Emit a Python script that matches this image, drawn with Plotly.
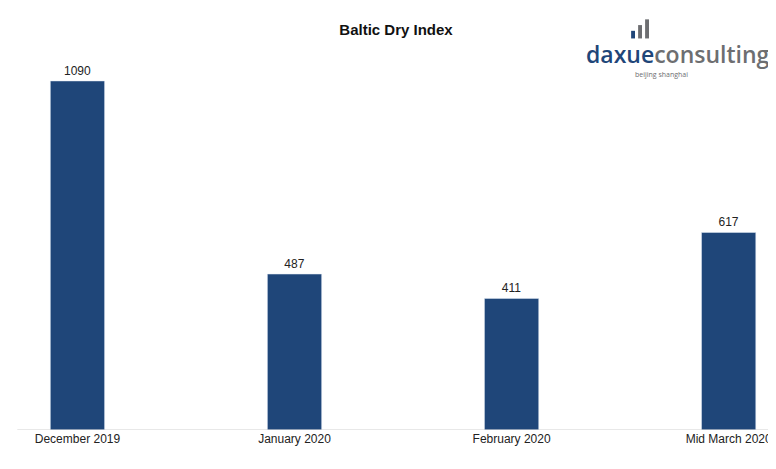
import plotly.graph_objects as go

categories = ["December 2019", "January 2020", "February 2020", "Mid March 2020"]
values = [1090, 487, 411, 617]
positions = [0, 1, 2, 3]

fig = go.Figure(go.Bar(
    x=positions, y=values, width=0.25,
    marker_color="#1f4679",
    text=values, textposition="outside",
    textfont=dict(family="Liberation Sans", size=12, color="#222"),
    cliponaxis=False,
))

fig.update_layout(
    width=776, height=469,
    margin=dict(l=0, r=0, t=40, b=47),
    plot_bgcolor="white", paper_bgcolor="white",
    showlegend=False,
    title=dict(text="<b>Baltic Dry Index</b>", x=0.5, y=0.965, xanchor="center",
               font=dict(family="Liberation Sans", size=15, color="#111")),
    font=dict(family="Liberation Sans", color="#222"),
)
fig.update_xaxes(range=[-0.32, 3.255], tickvals=positions, ticktext=categories,
                 tickfont=dict(size=12), showgrid=False, zeroline=False,
                 showline=False, ticks="")
fig.update_yaxes(range=[0, 1193], visible=False)

fig.add_shape(type="line", xref="paper", yref="y", x0=0.012, x1=0.988, y0=0, y1=0,
              line=dict(color="#d0d0d0", width=1))

# logo
fig.add_annotation(xref="paper", yref="paper", x=0.985, y=0.985, xanchor="right", yanchor="middle",
                   showarrow=False,
                   text="<span style='color:#1f4679'>daxue</span><span style='color:#6d6e71'>consulting</span>",
                   font=dict(family="Open Sans", size=23, weight=600))
fig.add_annotation(xref="paper", yref="paper", x=0.805, y=0.93, xanchor="left", yanchor="middle",
                   showarrow=False, text="beijing shanghai",
                   font=dict(family="Open Sans", size=7, color="#6d6e71"))
for i, h in enumerate([0.02, 0.035, 0.05]):
    fig.add_shape(type="rect", xref="paper", yref="paper",
                  x0=0.803 + i * 0.009, x1=0.808 + i * 0.009, y0=1.025, y1=1.025 + h,
                  fillcolor="#6d6e71" if i else "#1f4679", line_width=0)

fig.write_html("out.html")
